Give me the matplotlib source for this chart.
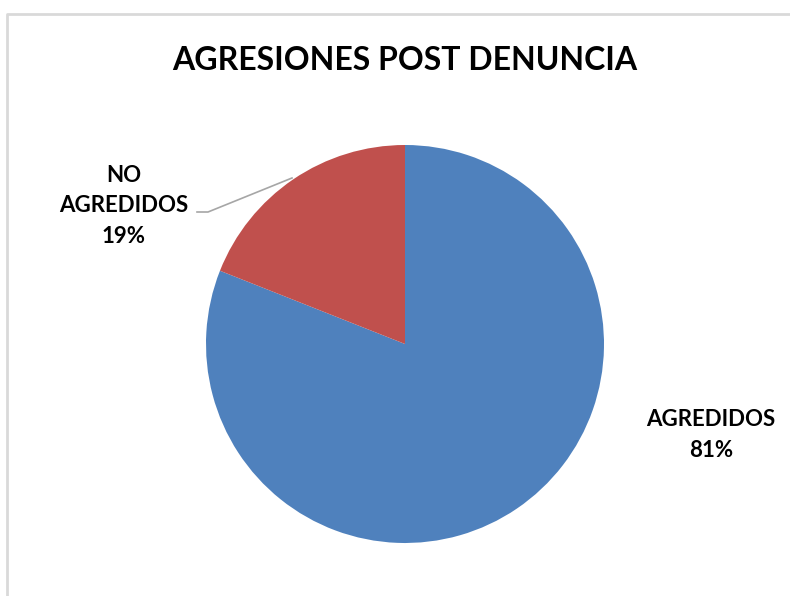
import matplotlib.pyplot as plt
from matplotlib.lines import Line2D

labels = ['AGREDIDOS', 'NO\nAGREDIDOS']
values = [81, 19]
colors = ['#4F81BD', '#C0504D']
title = 'AGRESIONES POST DENUNCIA'

W, H = 790, 596
fig = plt.figure(figsize=(W / 100, H / 100), dpi=100)

def fx(px):
    return px / W

def fy(py):
    return 1 - py / H

# outer chart frame: only top and left edges are visible
fig.lines.append(Line2D([fx(7), fx(7), fx(800)], [fy(600), fy(14), fy(14)],
                        transform=fig.transFigure, color='#d9d9d9', linewidth=2))

cx, cy, r = 405, 344, 199
ax = fig.add_axes([fx(cx - r), fy(cy + r), 2 * r / W, 2 * r / H])
ax.pie(values, colors=colors, startangle=90, counterclock=False,
       wedgeprops=dict(edgecolor='none'))
ax.set_aspect('equal')
ax.set_xlim(-1, 1)
ax.set_ylim(-1, 1)
ax.axis('off')

font = 'Lato'
fig.text(fx(405), fy(60), title, ha='center', va='center', fontsize=23,
         fontweight='bold', family=font)

fig.text(fx(711), fy(435), '%s\n%d%%' % (labels[0], values[0]), ha='center', va='center',
         fontsize=16, fontweight='bold', family=font, linespacing=1.55)
fig.text(fx(124), fy(206), '%s\n%d%%' % (labels[1], values[1]), ha='center', va='center',
         fontsize=16, fontweight='bold', family=font, linespacing=1.55)

fig.lines.append(Line2D([fx(197), fx(208), fx(292)], [fy(212), fy(212), fy(178)],
                        transform=fig.transFigure, color='#a6a6a6', linewidth=1.2))

plt.savefig('out.png', dpi=100)
